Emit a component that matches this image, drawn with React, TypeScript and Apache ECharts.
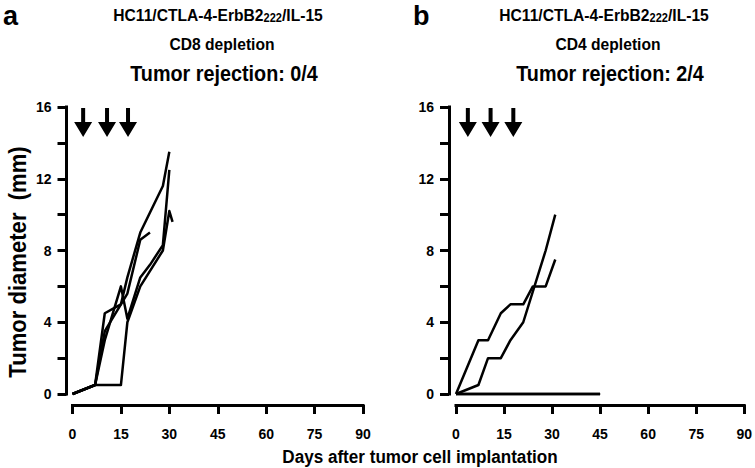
import React, { useEffect, useRef } from "react";
import * as echarts from "echarts";

// ---- data (days after implantation, tumor diameter in mm) ----
const cd8Mouse1: [number, number][] = [[0, 0], [7, 0.5], [10, 3.5], [15, 5.0], [17, 6.5], [21, 9.0], [28, 11.6], [30, 13.5]];
const cd8Mouse2: [number, number][] = [[0, 0], [7, 0.5], [10, 4.5], [13, 4.8], [15, 5.0], [17, 5.6], [21, 8.6], [24, 9.0]];
const cd8Mouse3: [number, number][] = [[0, 0], [7, 0.5], [10, 3.0], [15, 6.0], [17, 4.2], [21, 6.5], [24, 7.2], [28, 8.3], [30, 12.5]];
const cd8Mouse4: [number, number][] = [[0, 0], [7, 0.5], [15, 0.5], [17, 4.0], [21, 6.0], [28, 8.0], [30, 10.2], [31, 9.6]];

const cd4Mouse1: [number, number][] = [[0, 0], [7, 3.0], [10, 3.0], [14, 4.5], [17, 5.0], [21, 5.0], [24, 6.0], [28, 6.0], [31, 7.5]];
const cd4Mouse2: [number, number][] = [[0, 0], [7, 0.5], [10, 2.0], [14, 2.0], [17, 3.0], [21, 4.0], [28, 8.0], [31, 10.0]];
const cd4Mouse3: [number, number][] = [[0, 0], [45, 0]];
const cd4Mouse4: [number, number][] = [[0, 0], [45, 0]];

// antibody injection days (arrows), drawn near the top of the y range
const arrowDaysA = [3.3, 10.7, 17.2];
const arrowDaysB = [3.7, 10.8, 17.9];
const arrowLevel = 15.13;

const xTicks = [0, 15, 30, 45, 60, 75, 90];
const yLabelValues = [0, 4, 8, 12, 16];

const panelTitles = [
  { letter: "a", cell: "HC11/CTLA-4-ErbB2", sub: "222", tail: "/IL-15", depletion: "CD8 depletion", rejection: "Tumor rejection: 0/4" },
  { letter: "b", cell: "HC11/CTLA-4-ErbB2", sub: "222", tail: "/IL-15", depletion: "CD4 depletion", rejection: "Tumor rejection: 2/4" },
];

const yTitle = "Tumor diameter  (mm)";
const xTitle = "Days after tumor cell implantation";

const FONT = "'Liberation Sans', Arial, Helvetica, sans-serif";

const ARROW = "path://M7,0 L11,0 L11,14 L18,14 L9,29 L0,14 L7,14 Z";

export default function App() {
  const ref = useRef<HTMLDivElement>(null);

  useEffect(() => {
    if (!ref.current) return;
    const chart = echarts.init(ref.current, undefined, { renderer: "svg" });

    const lineW = 2.5;
    const axisW = 3;
    const axisLabel = {
      color: "#000",
      fontWeight: "bold" as const,
      fontFamily: FONT,
      fontSize: 14,
    };

    const makeX = (gridIndex: number) => ({
      type: "value" as const,
      gridIndex,
      min: 0,
      max: 90,
      interval: 15,
      offset: 11,
      z: 10,
      silent: true,
      axisLine: { show: true, onZero: false, lineStyle: { color: "#000", width: axisW, cap: "square" } },
      axisTick: { show: true, length: 9, lineStyle: { color: "#000", width: axisW } },
      axisLabel: { ...axisLabel, margin: 22, formatter: (v: number) => (xTicks.includes(v) ? String(v) : "") },
      splitLine: { show: false },
    });

    const makeY = (gridIndex: number, offset: number) => ({
      type: "value" as const,
      gridIndex,
      min: 0,
      max: 16,
      interval: 2,
      offset,
      z: 10,
      silent: true,
      axisLine: { show: true, onZero: false, lineStyle: { color: "#000", width: axisW, cap: "square" } },
      axisTick: { show: true, length: 9, lineStyle: { color: "#000", width: axisW } },
      axisLabel: {
        ...axisLabel,
        margin: 15,
        formatter: (v: number) => (yLabelValues.includes(v) ? String(v) : ""),
      },
      splitLine: { show: false },
    });

    const mouseSeries = (data: [number, number][], idx: number) => ({
      type: "line" as const,
      xAxisIndex: idx,
      yAxisIndex: idx,
      data,
      symbol: "none",
      clip: false,
      silent: true,
      emphasis: { disabled: true },
      lineStyle: { color: "#000", width: lineW, join: "round" },
      itemStyle: { color: "#000" },
      z: 3,
    });

    const arrowSeries = (days: number[], idx: number) => ({
      type: "scatter" as const,
      xAxisIndex: idx,
      yAxisIndex: idx,
      data: days.map((d) => [d, arrowLevel]),
      symbol: ARROW,
      symbolSize: [18, 29],
      clip: false,
      silent: true,
      emphasis: { disabled: true },
      itemStyle: { color: "#000", opacity: 1 },
      z: 4,
    });

    const centersX = [222, 608];
    const graphics: any[] = [];
    panelTitles.forEach((t, i) => {
      const cx = centersX[i];
      graphics.push({
        type: "text",
        x: i === 0 ? 3 : 413,
        y: 2,
        z: 1,
        silent: true,
        style: { text: t.letter, fill: "#000", font: `bold 27px ${FONT}`, verticalAlign: "top" },
      });
      graphics.push({
        type: "text",
        x: cx - 4,
        y: 15,
        z: 1,
        silent: true,
        scaleX: 0.92,
        style: {
          text: `{a|${t.cell}}{s|${t.sub}}{a|${t.tail}}`,
          align: "center",
          verticalAlign: "middle",
          rich: {
            a: { fontSize: 17, fontWeight: "bold", fontFamily: FONT, fill: "#000", color: "#000" },
            s: { fontSize: 12, fontWeight: "bold", fontFamily: FONT, fill: "#000", color: "#000", padding: [6, 0, 0, 0] },
          },
        },
      });
      graphics.push({
        type: "text",
        x: cx,
        y: 44,
        z: 1,
        silent: true,
        scaleX: 0.92,
        style: { text: t.depletion, align: "center", verticalAlign: "middle", fill: "#000", font: `bold 17px ${FONT}` },
      });
      graphics.push({
        type: "text",
        x: cx + 2,
        y: 73,
        z: 1,
        silent: true,
        scaleX: 0.9,
        style: { text: t.rejection, align: "center", verticalAlign: "middle", fill: "#000", font: `bold 22px ${FONT}` },
      });
    });
    graphics.push({
      type: "text",
      x: 420,
      y: 457,
      z: 1,
      silent: true,
      scaleX: 0.9,
      style: { text: xTitle, align: "center", verticalAlign: "middle", fill: "#000", font: `bold 19px ${FONT}` },
    });
    graphics.push({
      type: "text",
      x: 18,
      y: 262,
      z: 1,
      silent: true,
      rotation: Math.PI / 2,
      scaleX: 0.92,
      style: { text: yTitle, align: "center", verticalAlign: "middle", fill: "#000", font: `bold 24px ${FONT}` },
    });

    chart.setOption({
      animation: false,
      grid: [
        { left: 72.5, top: 107, width: 290.5, height: 287 },
        { left: 456, top: 107, width: 292, height: 287 },
      ],
      xAxis: [makeX(0), makeX(1)],
      yAxis: [makeY(0, 6), makeY(1, 7)],
      series: [
        mouseSeries(cd8Mouse1, 0),
        mouseSeries(cd8Mouse2, 0),
        mouseSeries(cd8Mouse3, 0),
        mouseSeries(cd8Mouse4, 0),
        mouseSeries(cd4Mouse1, 1),
        mouseSeries(cd4Mouse2, 1),
        mouseSeries(cd4Mouse3, 1),
        mouseSeries(cd4Mouse4, 1),
        arrowSeries(arrowDaysA, 0),
        arrowSeries(arrowDaysB, 1),
      ],
      graphic: graphics,
    });

    return () => chart.dispose();
  }, []);

  return (
    <div
      ref={ref}
      style={{ position: "fixed", left: 0, top: 0, width: 755, height: 468, background: "#fff" }}
    />
  );
}
